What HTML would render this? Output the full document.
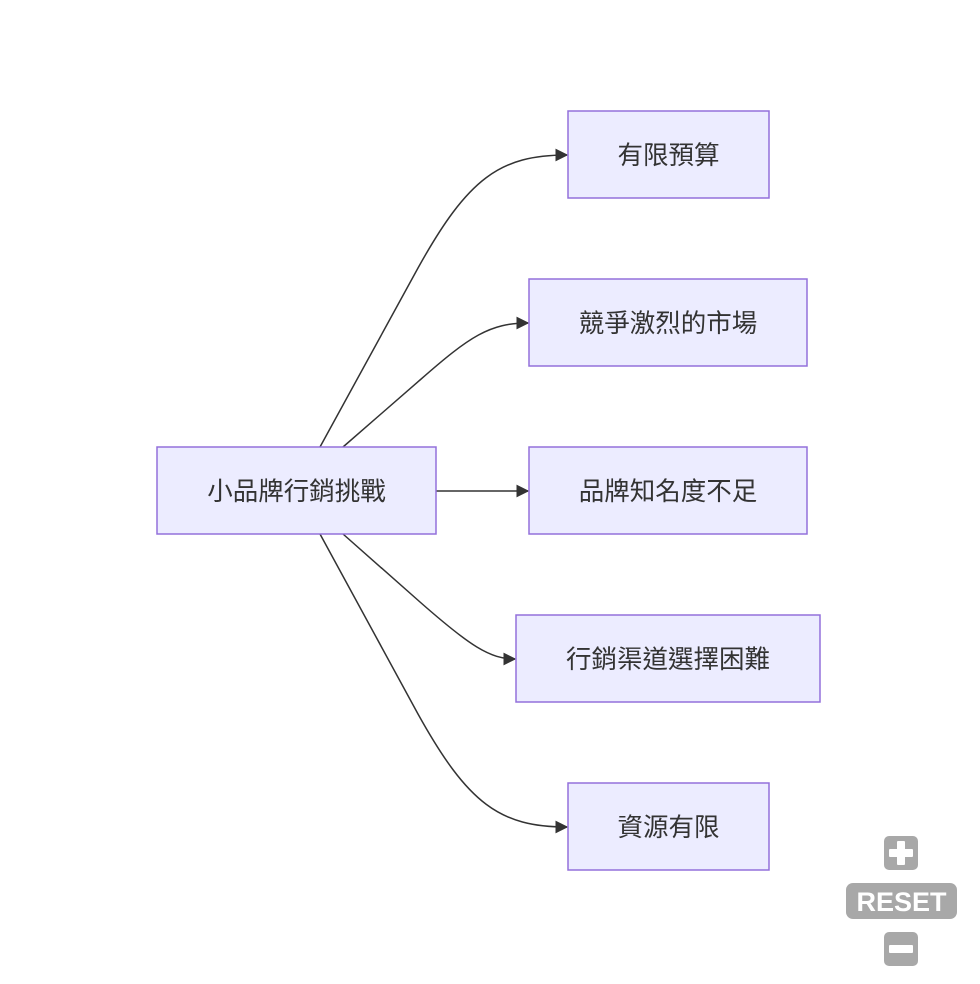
<!DOCTYPE html>
<html><head><meta charset="utf-8"><style>
html,body{margin:0;padding:0;background:#fff;}
svg{display:block;}
text{font-family:"Liberation Sans","Noto Sans CJK TC",sans-serif;font-size:25.5px;fill:#333;}
</style></head><body>
<svg width="980" height="984" viewBox="0 0 980 984" xmlns="http://www.w3.org/2000/svg">
<defs><marker id="a" viewBox="0 0 10 10" refX="9" refY="5" markerWidth="13" markerHeight="13" markerUnits="userSpaceOnUse" orient="auto"><path d="M0,0L10,5L0,10z" fill="#333"/></marker></defs>
<g fill="none" stroke="#333" stroke-width="1.5">
<path d="M320,447 L418,268 C468,178 500,155 567,155" marker-end="url(#a)"/>
<path d="M343,447 L420,380 C470,336 490,323 528,323" marker-end="url(#a)"/>
<path d="M436,491 L528,491" marker-end="url(#a)"/>
<path d="M343,534 L420,602 C470,646 490,659 515,659" marker-end="url(#a)"/>
<path d="M320,534 L418,714 C468,804 500,827 567,827" marker-end="url(#a)"/>
</g>
<g fill="#ECECFF" stroke="#9370DB" stroke-width="1.5">
<rect x="157" y="447" width="279" height="87"/>
<rect x="568" y="111" width="201" height="87"/>
<rect x="529" y="279" width="278" height="87"/>
<rect x="529" y="447" width="278" height="87"/>
<rect x="516" y="615" width="304" height="87"/>
<rect x="568" y="783" width="201" height="87"/>
</g>
<g text-anchor="middle">
<text x="296.5" y="500">小品牌行銷挑戰</text>
<text x="668.5" y="164">有限預算</text>
<text x="668" y="332">競爭激烈的市場</text>
<text x="668" y="500">品牌知名度不足</text>
<text x="668" y="668">行銷渠道選擇困難</text>
<text x="668.5" y="836">資源有限</text>
</g>
<g fill="#a8a8a8">
<rect x="884" y="836" width="34" height="34" rx="5"/>
<rect x="846" y="883" width="111" height="36" rx="7"/>
<rect x="884" y="932" width="34" height="34" rx="5"/>
</g>
<g fill="#fff">
<rect x="889" y="849" width="24" height="8" rx="1"/>
<rect x="897" y="841" width="8" height="24" rx="1"/>
<rect x="889" y="945" width="24" height="8" rx="1"/>
</g>
<text x="901.5" y="911" text-anchor="middle" style="font-size:27px;font-weight:bold;fill:#fff;">RESET</text>
</svg>
</body></html>
